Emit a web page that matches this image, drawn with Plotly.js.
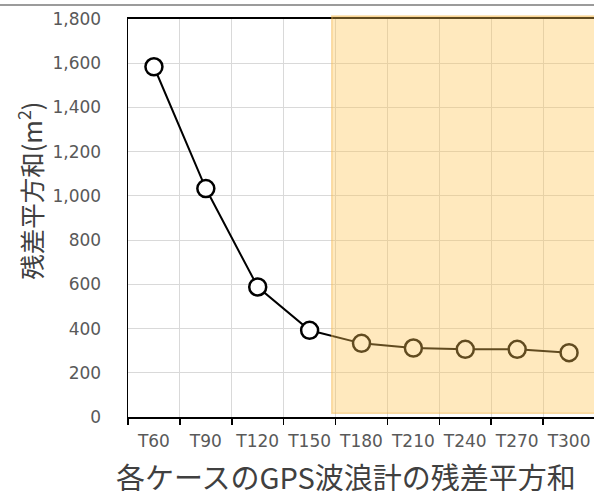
<!DOCTYPE html>
<html>
<head>
<meta charset="utf-8">
<script src="https://cdn.plot.ly/plotly-3.0.1.min.js"></script>
<style>
html,body{margin:0;padding:0;overflow:hidden;background:#fff;}
#chart{width:600px;height:491px;}
</style>
</head>
<body>
<div id="chart"></div>
<script>
const categories = ["T60","T90","T120","T150","T180","T210","T240","T270","T300"];
const residualSS = [1584, 1033, 588, 392, 333, 312, 306, 306, 291];
const yTickVals = [0,200,400,600,800,1000,1200,1400,1600,1800];
const yTitle = "残差平方和(m<sup>2</sup>)";
const xTitle = "各ケースのGPS波浪計の残差平方和";

const trace = {
  type: "scatter",
  mode: "lines+markers",
  x: categories,
  y: residualSS,
  line: {color: "#000000", width: 2},
  marker: {symbol: "circle", size: 17, color: "#ffffff", line: {color: "#000000", width: 2.5}},
  hoverinfo: "x+y"
};

const layout = {
  width: 600,
  height: 491,
  margin: {l: 128, r: 4.5, t: 19, b: 74.3, pad: 0},
  paper_bgcolor: "#ffffff",
  plot_bgcolor: "#ffffff",
  showlegend: false,
  font: {family: "DejaVu Sans, Verdana, sans-serif", color: "#595959"},
  xaxis: {
    type: "category",
    range: [-0.5, 8.5],
    tickson: "boundaries",
    tickangle: 0,
    ticks: "outside",
    ticklen: 6,
    tickwidth: 1.5,
    tickcolor: "#000000",
    showgrid: true,
    gridcolor: "#d9d9d9",
    gridwidth: 1,
    showline: true,
    linecolor: "#000000",
    linewidth: 2,
    mirror: true,
    tickfont: {size: 17, color: "#595959", family: "DejaVu Sans, Verdana, sans-serif"},
    ticklabelstandoff: 8,
    zeroline: false,
    fixedrange: true
  },
  yaxis: {
    range: [0, 1800],
    tickvals: yTickVals,
    tickformat: ",d",
    ticks: "",
    showgrid: true,
    gridcolor: "#d9d9d9",
    gridwidth: 1,
    showline: true,
    linecolor: "#000000",
    linewidth: 1.5,
    zeroline: false,
    tickfont: {size: 17, color: "#595959", family: "DejaVu Sans, Verdana, sans-serif"},
    ticklabelstandoff: 22,
    fixedrange: true
  },
  shapes: [
    {
      type: "rect", xref: "paper", yref: "paper",
      x0: 0.4364, x1: 1.02, y0: 0.0093, y1: 1.0073,
      fillcolor: "rgba(255,197,85,0.38)",
      line: {color: "rgba(245,180,70,0.45)", width: 1.5},
      layer: "above"
    },
    {
      type: "line", xref: "paper", yref: "paper",
      x0: -0.3, x1: 1.05, y0: 1.035, y1: 1.035,
      line: {color: "#7a7a7a", width: 1.5},
      layer: "above"
    }
  ],
  annotations: [
    {
      xref: "paper", yref: "paper",
      x: -0.2096, y: 0.5685,
      text: yTitle, textangle: -90, showarrow: false,
      xanchor: "center", yanchor: "middle",
      font: {family: "Noto Sans CJK JP, sans-serif", size: 25.5, color: "#404040"}
    },
    {
      xref: "paper", yref: "paper",
      x: 0.467, y: -0.149,
      text: xTitle, showarrow: false,
      xanchor: "center", yanchor: "middle",
      font: {family: "Noto Sans CJK JP, sans-serif", size: 29, color: "#404040"}
    }
  ]
};

Plotly.newPlot("chart", [trace], layout, {displayModeBar: false, staticPlot: true});
</script>
</body>
</html>
